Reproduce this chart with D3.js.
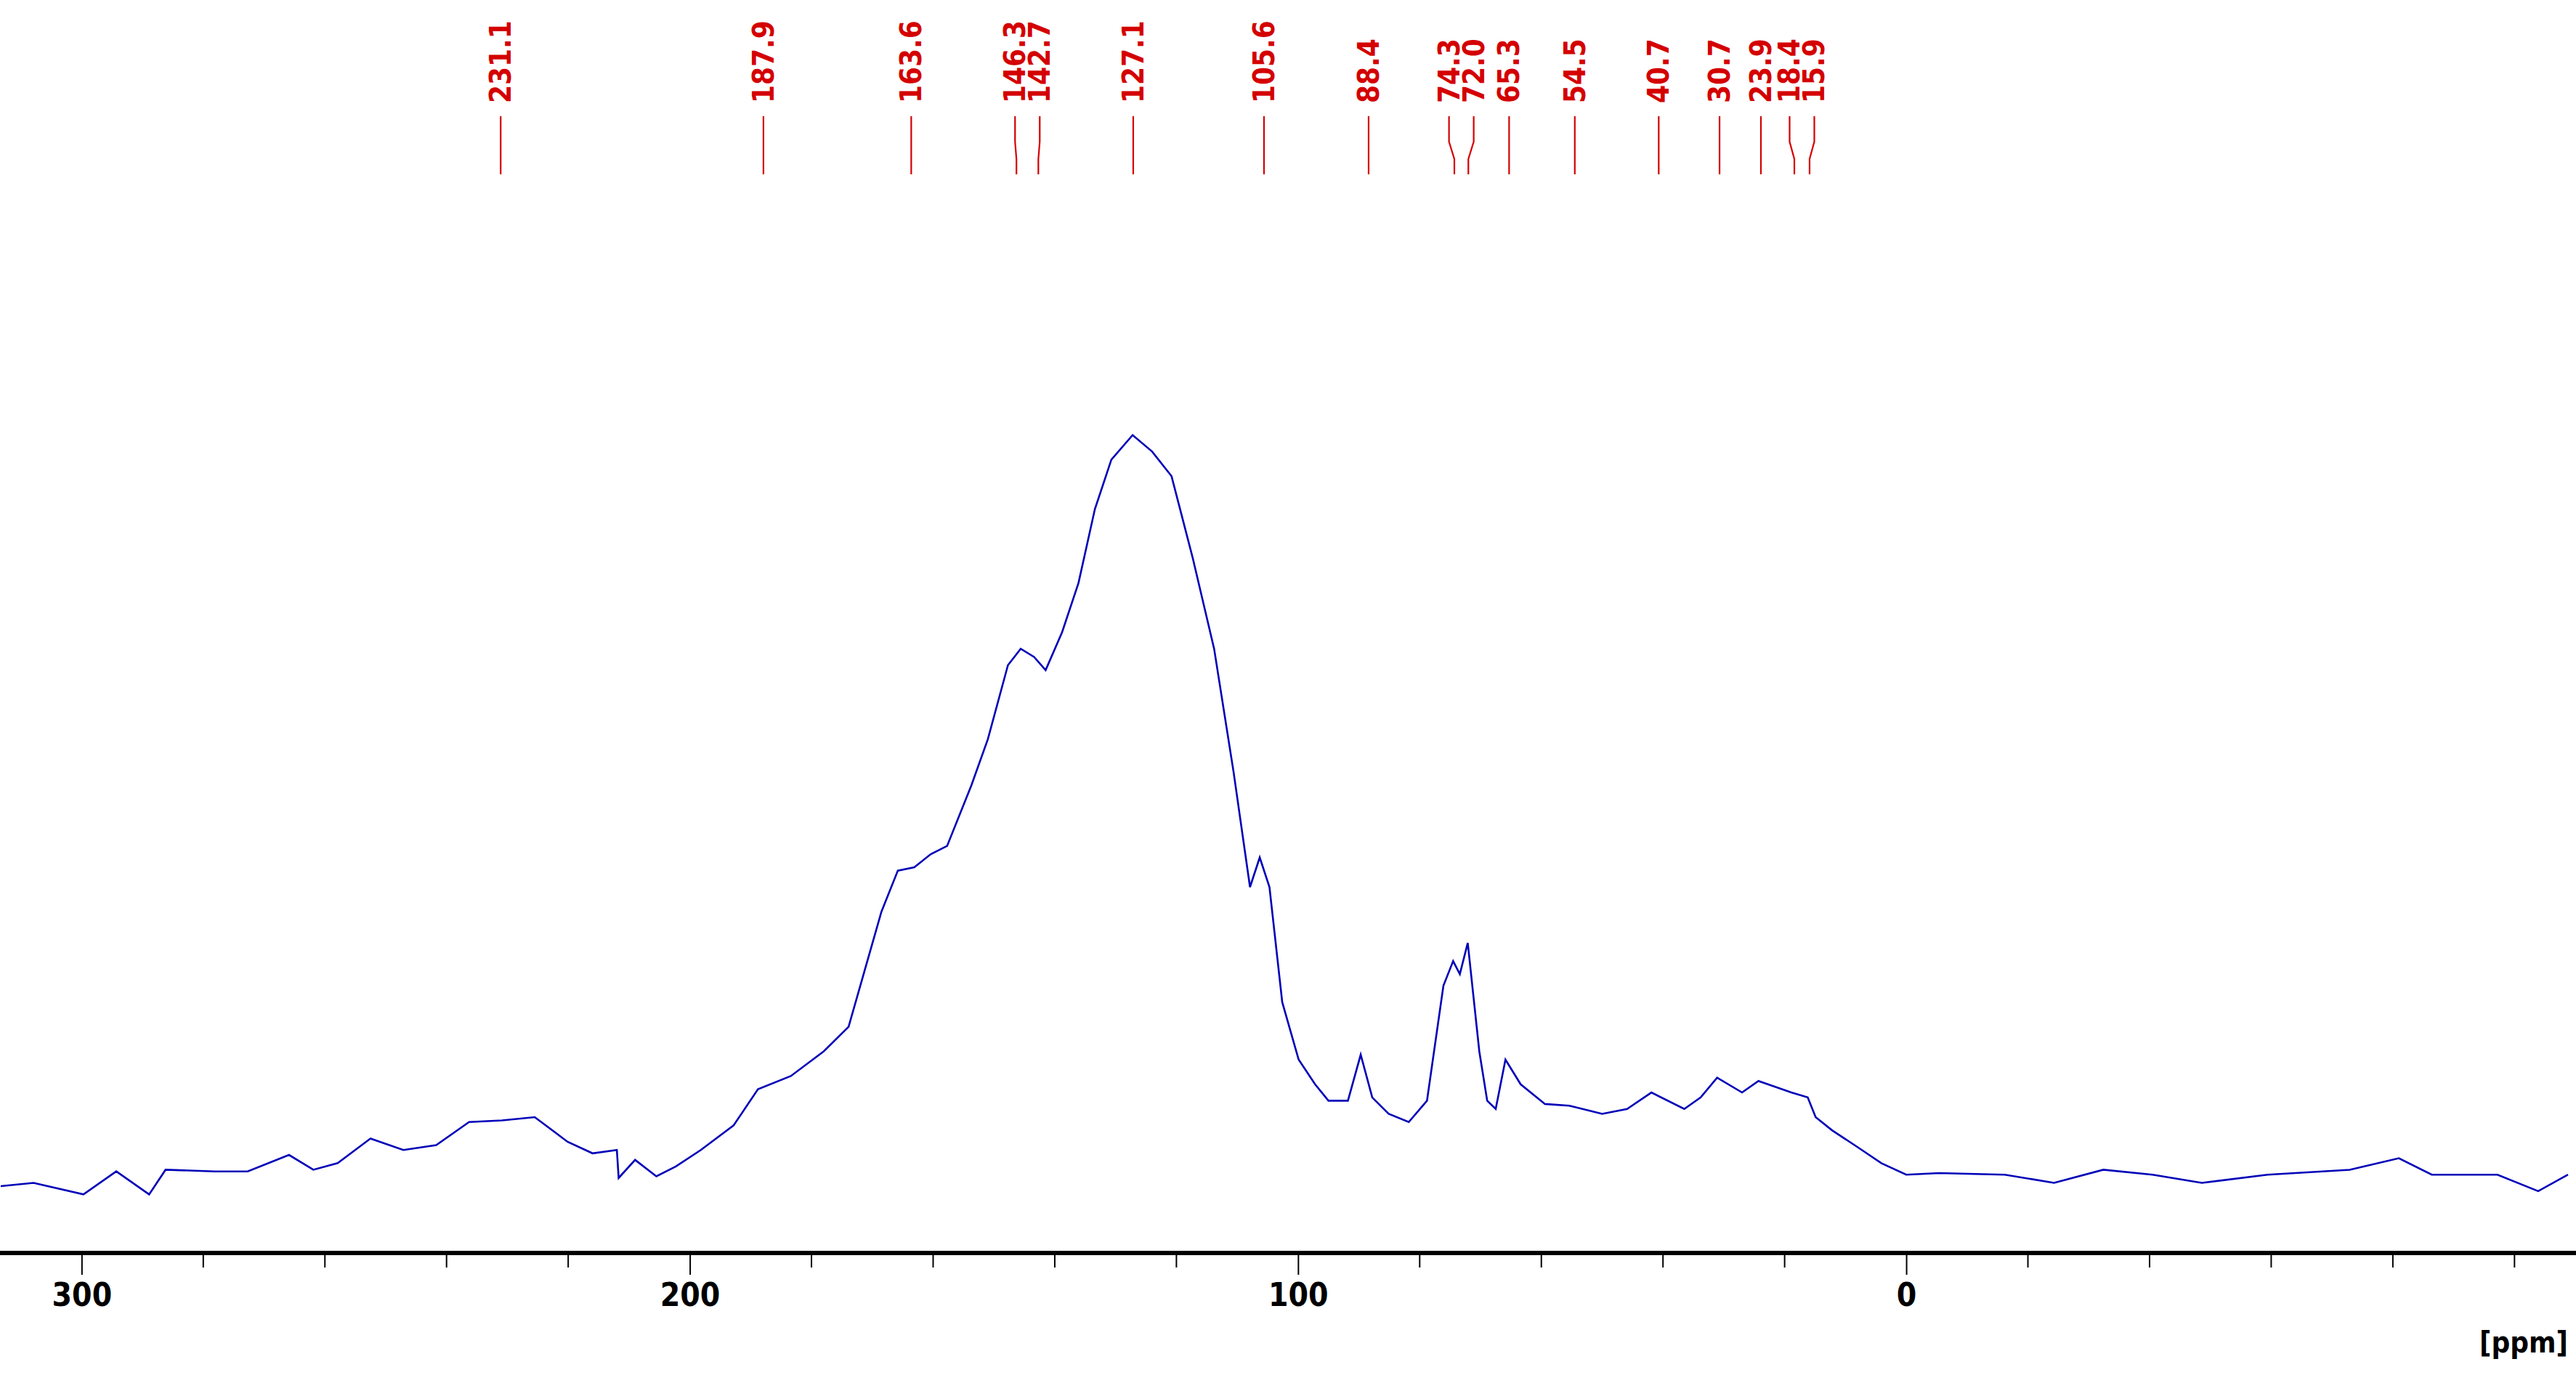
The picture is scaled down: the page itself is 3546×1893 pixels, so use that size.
<!DOCTYPE html>
<html><head><meta charset="utf-8">
<script src="https://cdn.jsdelivr.net/npm/d3@7"></script>
<style>body{margin:0;background:#fff}svg{display:block}</style>
</head><body><svg id="chart" width="3546" height="1893"></svg>
<script>
// spectrum trace (ppm, intensity a.u.)
var ppm = [313.3,307.9,299.7,294.3,288.9,286.2,278.1,272.7,265.9,261.9,257.9,252.5,247.1,241.7,236.3,230.9,225.5,220.1,216.0,212.0,211.7,209.0,205.5,202.3,198.2,192.8,188.8,183.4,178.0,173.9,171.2,168.5,165.8,163.1,160.4,157.7,153.7,151.0,147.7,145.6,143.4,141.5,138.8,136.1,133.4,130.7,127.2,124.0,120.8,117.3,113.8,110.6,107.9,106.3,104.7,102.6,99.9,97.2,95.0,91.8,89.7,87.8,85.1,81.8,78.8,76.1,74.5,73.4,72.1,70.2,68.9,67.5,65.9,63.4,59.4,55.4,50.0,45.9,41.9,36.5,33.8,31.1,27.0,24.3,18.9,16.2,14.9,12.2,8.1,4.1,0,-5.4,-16.2,-24.3,-32.4,-40.5,-48.6,-59.4,-72.9,-81.0,-86.4,-97.2,-103.9,-108.8];
var intensity = [-4,-2,-9,5,-9,6,5,5,15,6,10,25,18,21,35,36,38,23,16,18,1,12,2,8,18,33,55,63,78,93,128,163,188,190,198,203,240,268,313,323,318,310,333,363,408,438,453,443,428,378,323,248,178,196,178,108,73,58,48,48,76,50,40,35,48,118,133,125,144,78,48,43,73,58,46,45,40,43,53,43,50,62,53,60,53,50,38,30,20,10,3,4,3,-2,6,3,-2,3,6,13,3,3,-7,3];
var peakLabels = [231.1,187.9,163.6,146.3,142.7,127.1,105.6,88.4,74.3,72.0,65.3,54.5,40.7,30.7,23.9,18.4,15.9];
var majorTicks = [300,200,100,0];
var minorStep = 20;

var svg = d3.select('#chart');
var x = d3.scaleLinear().domain([313.3,-108.8]).range([1,3535]);
var y = d3.scaleLinear().domain([0,453]).range([1624,599]);
var axisY = 1725;
var font = '"DejaVu Sans Condensed","DejaVu Sans",sans-serif';

// spectrum
var pts = ppm.map(function(p,i){ return [p, intensity[i]]; });
svg.append('path')
  .attr('d', d3.line().x(function(d){return x(d[0])}).y(function(d){return y(d[1])})(pts))
  .attr('fill','none').attr('stroke','#0000b8').attr('stroke-width',2.6);

// axis
var minor = d3.range(-100, 320, minorStep).filter(function(v){ return majorTicks.indexOf(v) < 0 && v <= 313 && v >= -108; });
var axis = d3.axisBottom(x).tickValues(majorTicks).tickSize(30).tickPadding(12).tickFormat(d3.format('d'));
var g = svg.append('g').attr('transform','translate(0,'+axisY+')').call(axis);
g.select('.domain').remove();
g.selectAll('.tick line').attr('stroke','#000').attr('stroke-width',2);
g.selectAll('.tick text').attr('font-family',font).attr('font-weight','bold').attr('font-size',44).attr('fill','#000');
g.selectAll('.minor').data(minor).enter().append('line')
  .attr('x1',function(d){return x(d)}).attr('x2',function(d){return x(d)})
  .attr('y1',0).attr('y2',20).attr('stroke','#000').attr('stroke-width',2);
svg.append('line').attr('x1',0).attr('x2',3546).attr('y1',axisY).attr('y2',axisY)
  .attr('stroke','#000').attr('stroke-width',6);
svg.append('text').attr('x',3535).attr('y',1862).attr('text-anchor','end')
  .attr('font-family',font).attr('font-weight','bold').attr('font-size',40).text('[ppm]');

// peak labels, spread crowded ones
var minSep = 34;
var items = peakLabels.map(function(p){ return {p:p, tx:x(p), lx:x(p)}; }).sort(function(a,b){return a.tx-b.tx});
var groups = [];
items.forEach(function(it){
  var last = groups[groups.length-1];
  if(last && it.tx - last[last.length-1].tx < minSep) last.push(it); else groups.push([it]);
});
groups.forEach(function(gr){
  var mean = d3.mean(gr, function(d){return d.tx});
  gr.forEach(function(d,i){ d.lx = gr.length > 1 ? mean + (i-(gr.length-1)/2)*minSep : d.tx; });
});
var pk = svg.append('g').selectAll('g').data(items).enter().append('g');
pk.append('path')
  .attr('d', function(d){ return 'M'+d.lx+',160V195L'+d.tx+',219V240'; })
  .attr('fill','none').attr('stroke','#d40000').attr('stroke-width',2.2);
pk.append('text')
  .attr('transform', function(d){ return 'translate('+(d.lx+14)+',142) rotate(-90)'; })
  .attr('font-family',font).attr('font-weight','bold').attr('font-size',40).attr('fill','#d40000')
  .text(function(d){ return d.p.toFixed(1); });
</script></body></html>
